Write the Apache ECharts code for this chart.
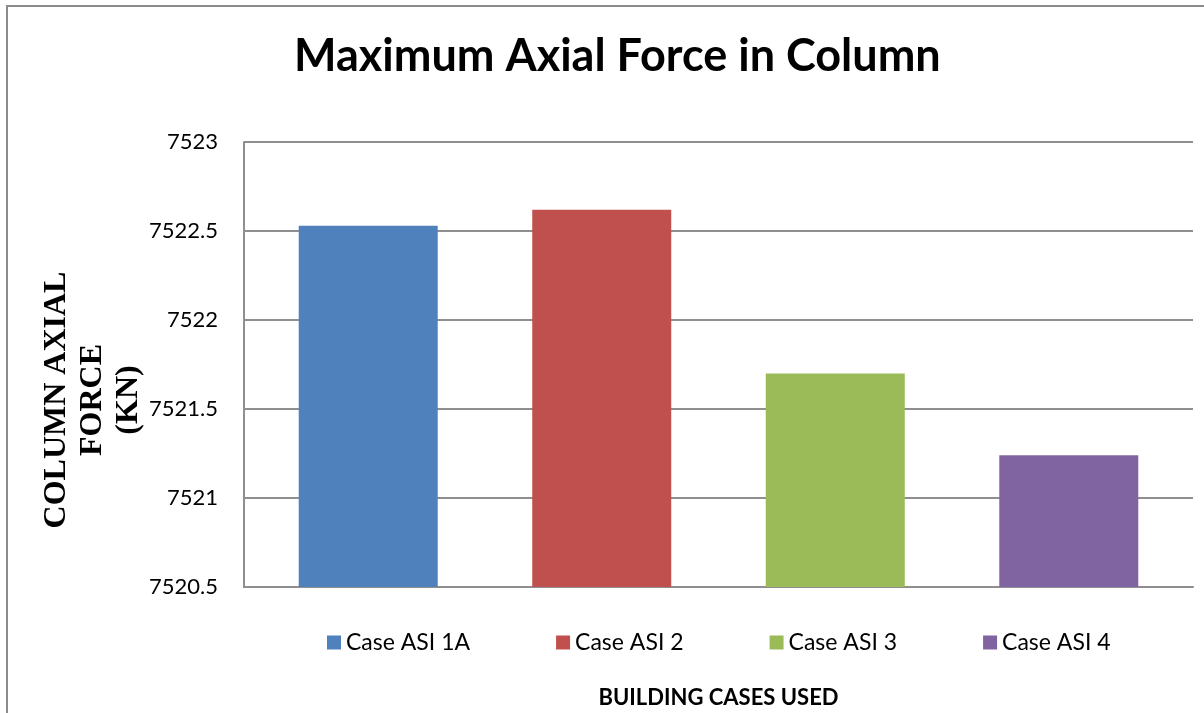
<!DOCTYPE html>
<html>
<head>
<meta charset="utf-8">
<script src="https://cdn.jsdelivr.net/npm/echarts@6/dist/echarts.min.js"></script>
<style>
  html, body { margin: 0; padding: 0; background: #fff; }
  #main { width: 1204px; height: 713px; }
</style>
</head>
<body>
<div id="main"></div>
<script>
// data
var caseNames = ['Case ASI 1A', 'Case ASI 2', 'Case ASI 3', 'Case ASI 4'];
var axialForce = [7522.53, 7522.62, 7521.70, 7521.24];
var caseColors = ['#4F81BD', '#C0504D', '#9BBB59', '#8064A2'];
var yMin = 7520.5, yMax = 7523, yStep = 0.5;

var chart = echarts.init(document.getElementById('main'));

// one category, one series per case (like the Excel chart)
var series = caseNames.map(function (name, i) {
  return {
    name: name,
    type: 'bar',
    data: [axialForce[i]],
    barWidth: 139,
    barGap: '68%',
    itemStyle: { color: caseColors[i] }
  };
});

chart.setOption({
  animation: false,
  title: {
    text: 'Maximum Axial Force in Column',
    left: 289,
    top: 29,
    textStyle: { fontFamily: 'Lato', fontWeight: 'bold', fontSize: 45, color: '#000' }
  },
  grid: { left: 244, top: 142, right: 11, bottom: 126, outerBoundsMode: 'none' },
  legend: {
    data: caseNames,
    left: 322,
    top: 626,
    icon: 'rect',
    itemWidth: 14,
    itemHeight: 14,
    itemGap: 86,
    textStyle: { fontFamily: 'Lato', fontSize: 23, color: '#000' }
  },
  xAxis: {
    type: 'category',
    data: [''],
    name: 'BUILDING CASES USED',
    nameLocation: 'middle',
    nameGap: 100,
    nameTextStyle: { fontFamily: 'Lato', fontWeight: 'bold', fontSize: 22, color: '#000' },
    axisLine: { lineStyle: { color: '#8f8f8f', width: 2 } },
    axisTick: { show: false },
    axisLabel: { show: false }
  },
  yAxis: {
    type: 'value',
    min: yMin,
    max: yMax,
    interval: yStep,
    axisLine: { show: true, lineStyle: { color: '#8f8f8f', width: 2 } },
    axisTick: { show: false },
    axisLabel: {
      margin: 26,
      fontFamily: 'Lato',
      fontSize: 22,
      color: '#000',
      formatter: function (v) { return String(+v.toFixed(1)); }
    },
    splitLine: { lineStyle: { color: '#8f8f8f', width: 2 } }
  },
  graphic: [
    {
      type: 'rect',
      shape: { x: 7, y: 6, width: 1400, height: 900 },
      style: { fill: 'none', stroke: '#8c8c8c', lineWidth: 2 },
      silent: true
    },
    {
      type: 'text',
      x: 93,
      y: 400,
      rotation: Math.PI / 2,
      style: {
        text: 'COLUMN AXIAL\nFORCE\n(KN)',
        font: 'bold 32px "Liberation Serif"',
        lineHeight: 36,
        align: 'center',
        verticalAlign: 'middle',
        fill: '#000'
      }
    }
  ],
  series: series
});
</script>
</body>
</html>
